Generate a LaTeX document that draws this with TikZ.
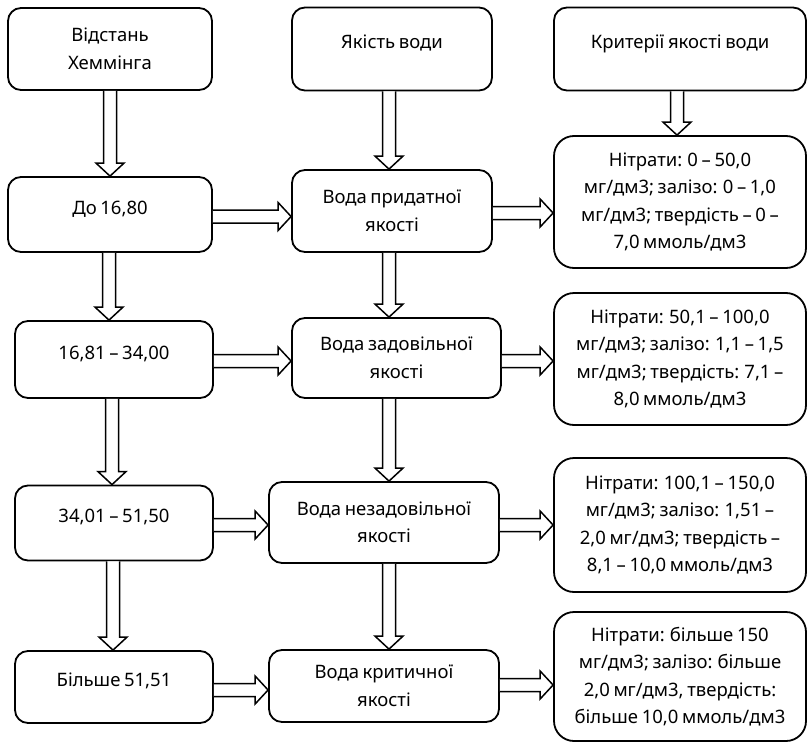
\documentclass[tikz,border=0pt]{standalone}
\usepackage{fontspec}
\setmainfont[WordSpace=0.75]{Noto Sans}
\usetikzlibrary{calc}
\tikzset{
  box/.style={draw=black, line width=1.8pt, rounded corners=13pt, align=center,
    inner sep=0pt, fill=white, font=\fontsize{18.5}{27.5}\selectfont, text=black},
  crit/.style={box, rounded corners=20pt},
  lifted/.style={text height=13pt, text depth=14pt},
  barrow/.style={draw=black, line width=1.5pt, fill=white, line join=miter},
}
\newcommand{\varr}[3][0]{%
  \draw[barrow] let \p1=(#2.south), \p2=(#3.north), \n1={\x1+#1pt} in
   ({\n1-6.5pt},{\y1}) -- ({\n1-6.5pt},{\y2+13pt}) -- ({\n1-14pt},{\y2+13pt})
   -- ({\n1},{\y2}) -- ({\n1+14pt},{\y2+13pt}) -- ({\n1+6.5pt},{\y2+13pt})
   -- ({\n1+6.5pt},{\y1});}
\newcommand{\harr}[3][0]{%
  \draw[barrow] let \p1=(#2.east), \p2=(#3.west), \n1={\y1-#1pt} in
   ({\x1},{\n1+6.5pt}) -- ({\x2-13pt},{\n1+6.5pt}) -- ({\x2-13pt},{\n1+14pt})
   -- ({\x2},{\n1}) -- ({\x2-13pt},{\n1-14pt}) -- ({\x2-13pt},{\n1-6.5pt})
   -- ({\x1},{\n1-6.5pt});}
\begin{document}
\begin{tikzpicture}[x=1pt,y=-1pt]
\useasboundingbox (0,0) rectangle (809,744);
% left column
\node[box, minimum width=204pt, minimum height=82pt] (b1) at (110,49) {Відстань\\Хеммінга};
\node[box, lifted, minimum width=204pt, minimum height=75pt] (b2) at (110,214.5) {До 16,80};
\node[box, lifted, minimum width=198pt, minimum height=77pt] (b3) at (114,359.5) {16,81 – 34,00};
\node[box, lifted, minimum width=198pt, minimum height=75pt] (b4) at (114,523) {34,01 – 51,50};
\node[box, lifted, minimum width=198pt, minimum height=72pt] (b5) at (114,687) {Більше 51,51};
% middle column
\node[box, lifted, minimum width=200pt, minimum height=83pt] (m1) at (392,49) {Якість води};
\node[box, minimum width=200pt, minimum height=82pt] (m2) at (392,211) {Вода придатної\\якості};
\node[box, minimum width=209pt, minimum height=80pt] (m3) at (396.5,358) {Вода задовільної\\якості};
\node[box, minimum width=230pt, minimum height=81pt] (m4) at (384,522.5) {Вода незадовільної\\якості};
\node[box, minimum width=230pt, minimum height=72pt] (m5) at (384,686) {Вода критичної\\якості};
% right column
\node[box, lifted, minimum width=252pt, minimum height=83pt] (r1) at (680,49) {Критерії якості води};
\node[crit, minimum width=252pt, minimum height=132pt] (r2) at (680,202)
  {Нітрати: 0 – 50,0\\мг/дм3; залізо: 0 – 1,0\\мг/дм3; твердість – 0 –\\7,0 ммоль/дм3};
\node[crit, minimum width=252pt, minimum height=132pt] (r3) at (680,359)
  {Нітрати: 50,1 – 100,0\\мг/дм3; залізо: 1,1 – 1,5\\мг/дм3; твердість: 7,1 –\\8,0 ммоль/дм3};
\node[crit, minimum width=252pt, minimum height=134pt] (r4) at (680,525)
  {Нітрати: 100,1 – 150,0\\мг/дм3; залізо: 1,51 –\\2,0 мг/дм3; твердість –\\8,1 – 10,0 ммоль/дм3};
\node[crit, minimum width=252pt, minimum height=129pt] (r5) at (680,676.5)
  {Нітрати: більше 150\\мг/дм3; залізо: більше\\2,0 мг/дм3, твердість:\\більше 10,0 ммоль/дм3};
% vertical arrows
\varr{b1}{b2}
\varr[-1]{b2}{b3}
\varr[-2]{b3}{b4}
\varr[-1]{b4}{b5}
\varr[-3]{m1}{m2}
\varr[-3]{m2}{m3}
\varr[-7.5]{m3}{m4}
\varr[5]{m4}{m5}
\varr[-3]{r1}{r2}
% horizontal arrows
\harr[2]{b2}{m2}
\harr[2]{m2}{r2}
\harr[1.5]{b3}{m3}
\harr[3]{m3}{r3}
\harr[2]{b4}{m4}
\harr[2.5]{m4}{r4}
\harr[3]{b5}{m5}
\harr[-1]{m5}{r5}
\end{tikzpicture}
\end{document}
